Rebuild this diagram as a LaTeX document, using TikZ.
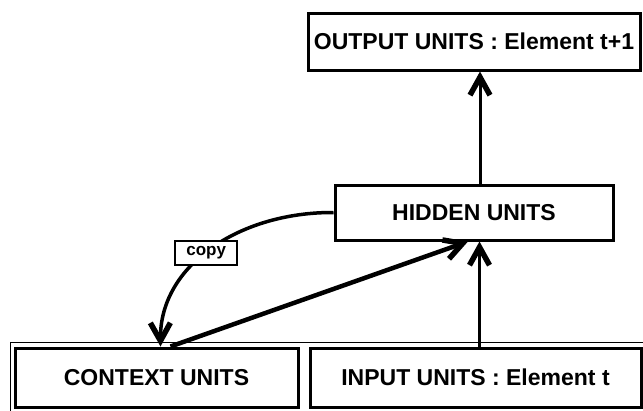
\documentclass[tikz,border=0pt]{standalone}
\usepackage{fontspec}
\setmainfont{Liberation Sans}
\usetikzlibrary{arrows.meta}
\begin{document}
\begin{tikzpicture}[x=1pt, y=-1pt,
		unitbox/.style={draw, line width=3pt, inner sep=0pt,
			font=\bfseries\fontsize{23}{26}\selectfont, text height=16.5pt, text depth=0pt},
		link/.style={line width=3pt, -{Straight Barb[length=18pt, width=20pt, line width=5.5pt]}},
		copytag/.style={draw, fill=white, line width=2pt, inner sep=0pt,
			minimum width=62pt, minimum height=24pt,
			font=\bfseries\fontsize{17}{19}\selectfont},
	]
	\useasboundingbox (0,0) rectangle (643,410);
	\clip (0,0) rectangle (643,410);
	\draw[line width=.9pt, double, double distance=2pt] (11.5,343.5) rectangle (660,430);
	\foreach\name/\x/\y/\w/\h/\txt in{
		out/474/41.5/332/57/OUTPUT UNITS : Element t+1,
		hid/474/212.5/278/55/HIDDEN UNITS,
		ctx/156.5/377.5/283/59/CONTEXT UNITS,
		inp/475.5/377.5/331/59/INPUT UNITS : Element t
	}{
		\node[unitbox, minimum width=\w pt, minimum height=\h pt] (\name) at (\x,\y) {\txt};
	}
	\draw[link] ([xshift=6pt]hid.north) -- ([xshift=6pt]hid.north |- out.south);
	\draw[link] ([xshift=4pt]inp.north) -- ([xshift=4pt]inp.north |- hid.south);
	\draw[link, line width=4.5pt] ([xshift=14pt]ctx.north) -- ([xshift=-6pt]hid.south);
	\draw[link, line width=3.5pt] (hid.west) .. controls (240,212) and (160,265) .. ([xshift=4pt]ctx.north)
		node[pos=.53, copytag] {copy};
\end{tikzpicture}
\end{document}
